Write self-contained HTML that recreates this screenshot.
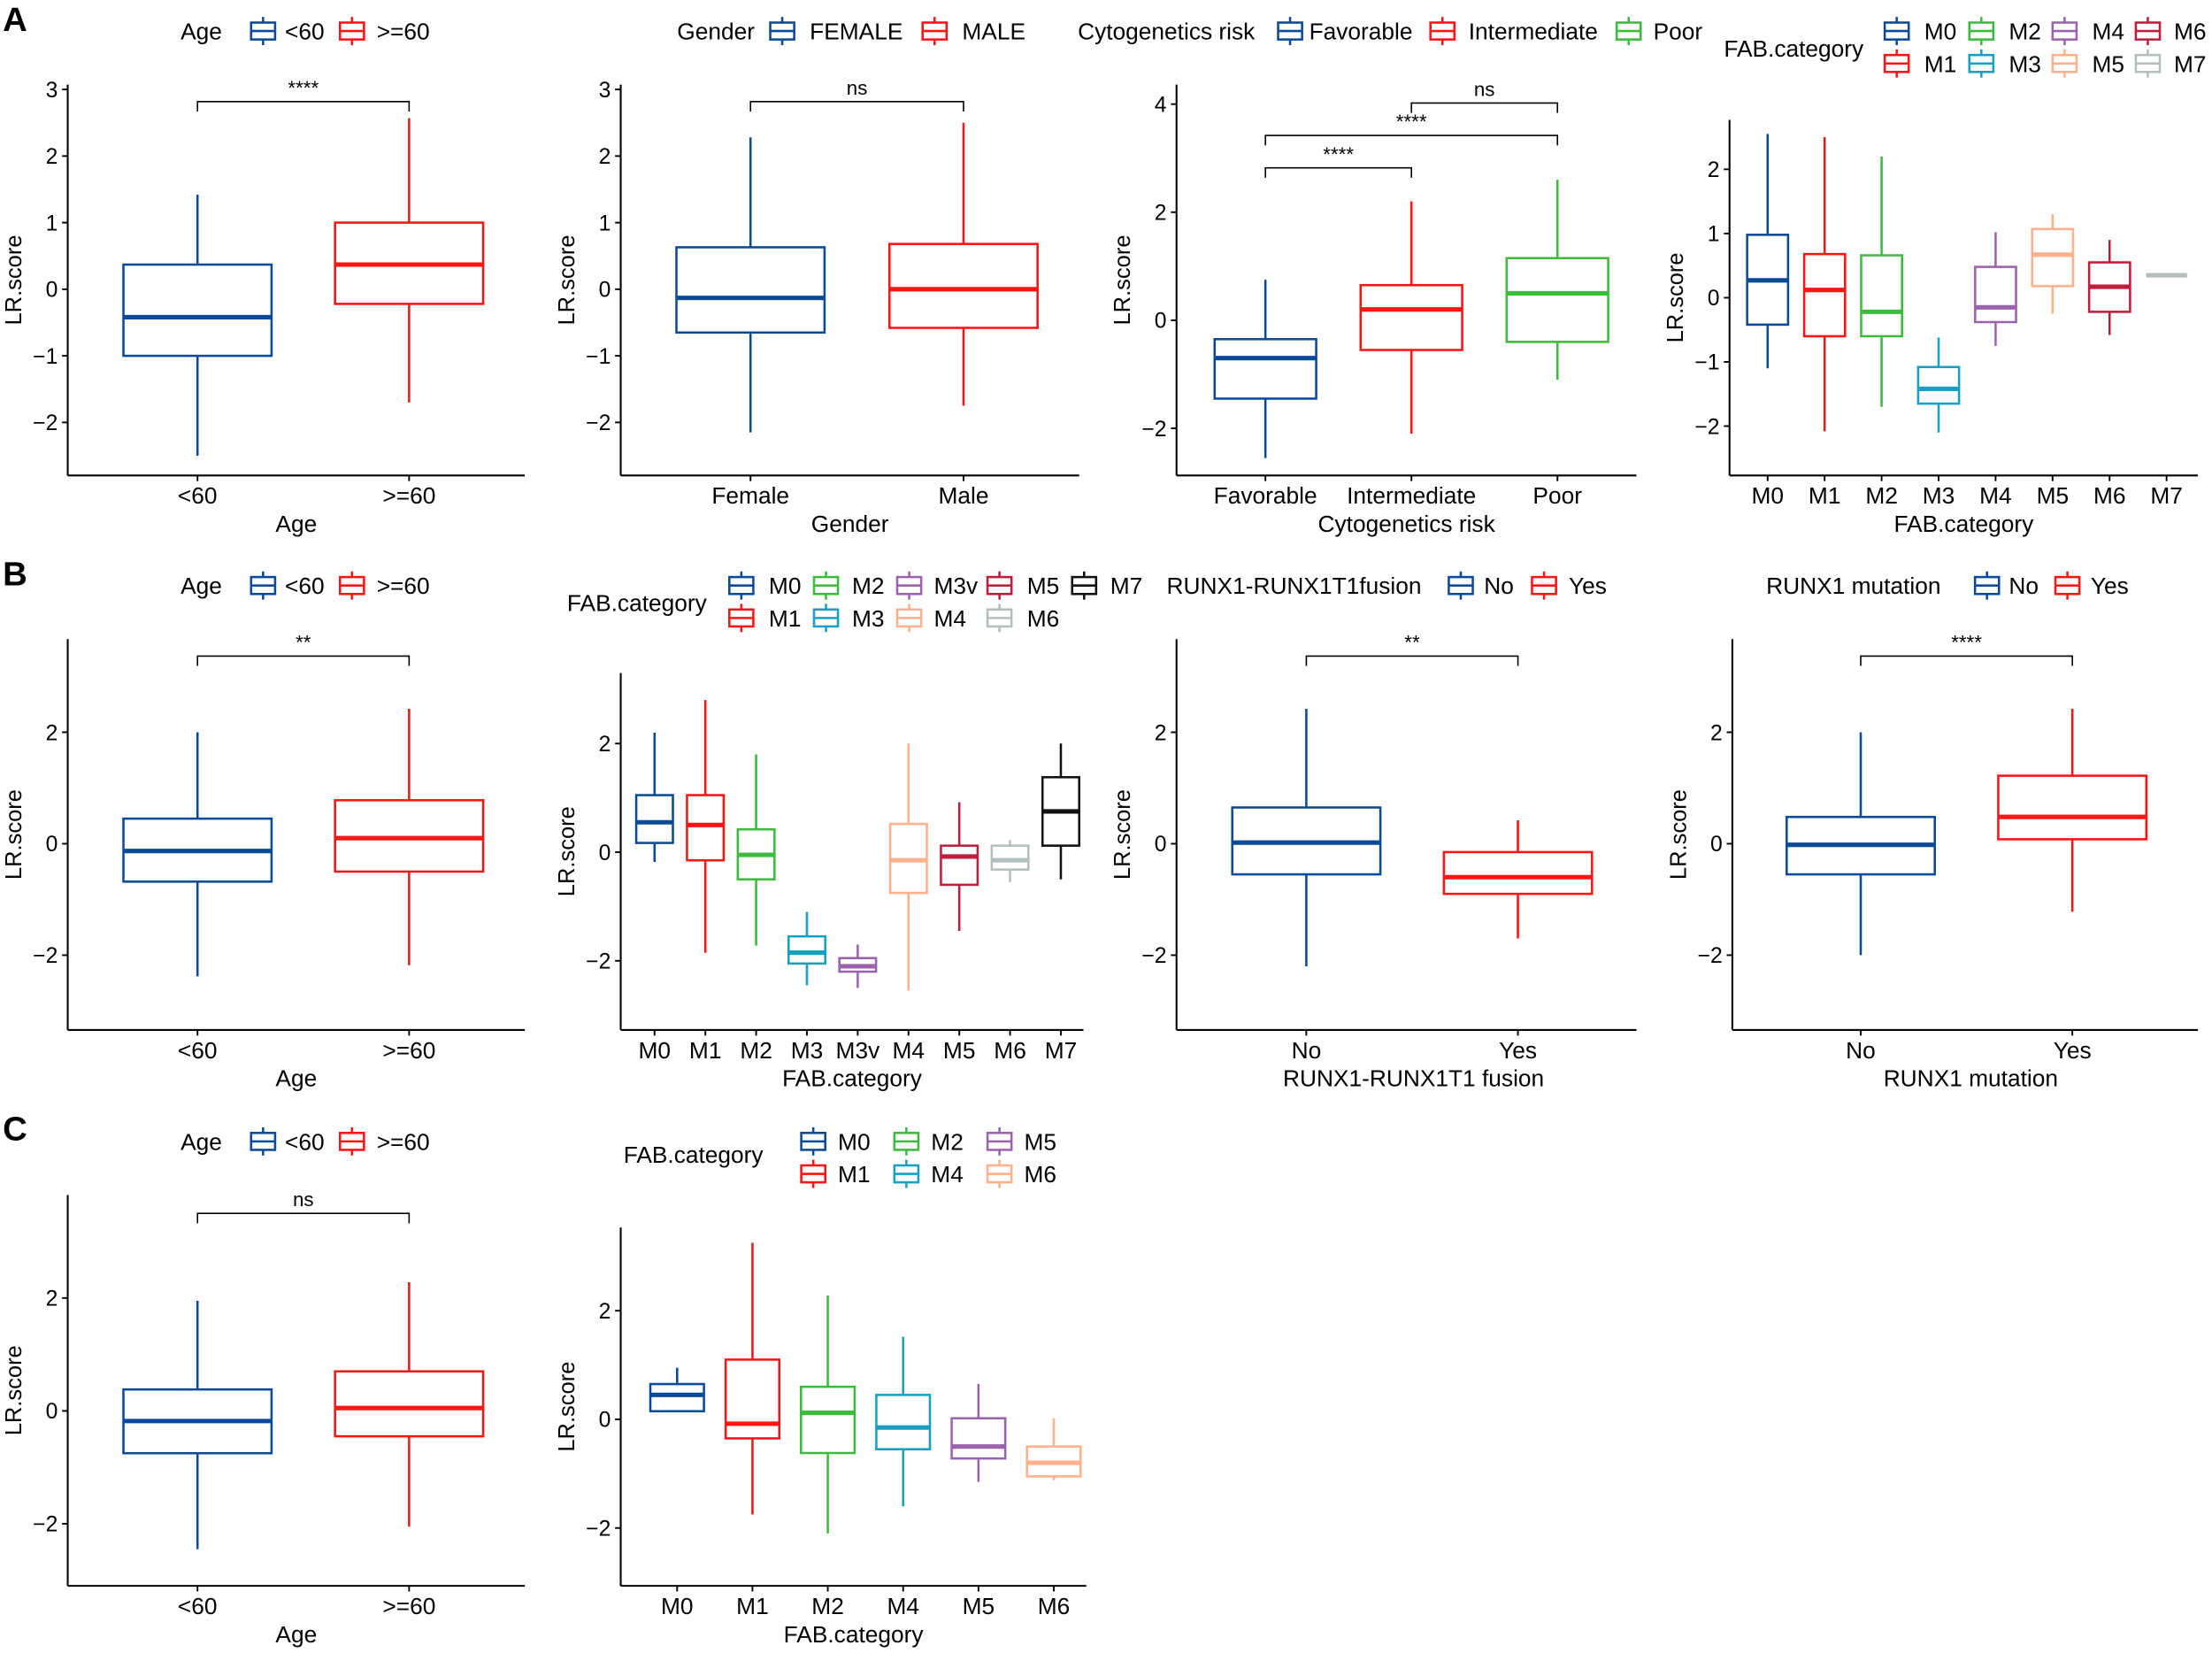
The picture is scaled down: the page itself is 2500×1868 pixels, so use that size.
<!DOCTYPE html>
<html><head><meta charset="utf-8">
<style>
html,body{margin:0;padding:0;background:#fff;}
svg{display:block;}
text{font-family:"Liberation Sans",Arial,sans-serif;fill:#000;}
</style></head>
<body>
<svg id="chart" xmlns="http://www.w3.org/2000/svg" width="2500" height="1868" viewBox="0 0 1568 1171.6" preserveAspectRatio="none">
<rect x="0" y="0" width="1568" height="1172" fill="#fff"/>
<text x="2" y="22" font-size="24" font-weight="bold">A</text>
<text x="2" y="415" font-size="24" font-weight="bold">B</text>
<text x="2" y="808" font-size="24" font-weight="bold">C</text>
</svg>
<script>
const C={M0:'#0B4A98',M1:'#FF1414',M2:'#3DBB3D',M3:'#17A0C4',M4:'#9B62AE',M5:'#FFB08C',M6:'#BE1E3C',M7:'#B4BEBE',blk:'#111'};
// data arrays: each box = [q1, median, q3, lower whisker, upper whisker]
const a1Cats=['<60','>=60'];
const a1Boxes=[[-1.0,-0.42,0.37,-2.5,1.42],[-0.22,0.37,1.0,-1.7,2.57]];
const a2Cats=['Female','Male'];
const a2Boxes=[[-0.65,-0.13,0.63,-2.15,2.28],[-0.58,0.0,0.68,-1.75,2.5]];
const a3Cats=['Favorable','Intermediate','Poor'];
const a3Boxes=[[-1.45,-0.7,-0.35,-2.55,0.75],[-0.55,0.2,0.65,-2.1,2.2],[-0.4,0.5,1.15,-1.1,2.6]];
const a4Cats=['M0','M1','M2','M3','M4','M5','M6','M7'];
const a4Boxes=[[-0.42,0.27,0.98,-1.1,2.55],[-0.6,0.12,0.68,-2.08,2.5],[-0.6,-0.22,0.66,-1.7,2.2],[-1.65,-1.42,-1.08,-2.1,-0.62],[-0.38,-0.15,0.48,-0.75,1.02],[0.18,0.67,1.07,-0.25,1.3],[-0.22,0.17,0.55,-0.58,0.9],[0.35,0.35,0.35,0.35,0.35]];
const b1Cats=['<60','>=60'];
const b1Boxes=[[-0.68,-0.13,0.45,-2.38,2.0],[-0.5,0.1,0.78,-2.18,2.42]];
const b2Cats=['M0','M1','M2','M3','M3v','M4','M5','M6','M7'];
const b2Boxes=[[0.17,0.55,1.05,-0.18,2.2],[-0.15,0.5,1.05,-1.85,2.8],[-0.5,-0.05,0.42,-1.72,1.8],[-2.05,-1.85,-1.55,-2.45,-1.1],[-2.2,-2.1,-1.95,-2.5,-1.7],[-0.75,-0.15,0.52,-2.55,2.0],[-0.6,-0.08,0.12,-1.45,0.92],[-0.32,-0.15,0.12,-0.55,0.22],[0.12,0.75,1.38,-0.5,2.0]];
const b3Cats=['No','Yes'];
const b3Boxes=[[-0.55,0.02,0.65,-2.2,2.42],[-0.9,-0.6,-0.15,-1.7,0.42]];
const b4Cats=['No','Yes'];
const b4Boxes=[[-0.55,-0.02,0.48,-2.0,2.0],[0.08,0.48,1.22,-1.22,2.42]];
const c1Cats=['<60','>=60'];
const c1Boxes=[[-0.75,-0.18,0.38,-2.45,1.95],[-0.45,0.05,0.7,-2.05,2.28]];
const c2Cats=['M0','M1','M2','M4','M5','M6'];
const c2Boxes=[[0.15,0.45,0.65,0.15,0.95],[-0.35,-0.08,1.1,-1.75,3.25],[-0.62,0.12,0.6,-2.1,2.28],[-0.55,-0.15,0.45,-1.6,1.52],[-0.72,-0.5,0.02,-1.15,0.65],[-1.05,-0.8,-0.5,-1.12,0.02]];
const ticks3=[-2,-1,0,1,2,3];
const ticks4=[-2,0,2,4];
const ticks2=[-2,-1,0,1,2];
const ticksB=[-2,0,2];

const svg=document.getElementById('chart');
const NS='http://www.w3.org/2000/svg';
function mk(tag,attrs,parent){const e=document.createElementNS(NS,tag);for(const k in attrs)e.setAttribute(k,attrs[k]);(parent||svg).appendChild(e);return e;}
function txt(x,y,s,size,anchor,parent,extra){const t=mk('text',Object.assign({x:x,y:y,'font-size':size,'text-anchor':anchor||'start'},extra||{}),parent);t.textContent=s;return t;}

function keyIcon(g,x,y,col){
  const k=mk('g',{},g);
  
  
  mk('rect',{x:x,y:y-6,width:17,height:12,fill:'none',stroke:col,'stroke-width':1.6},k);
  mk('line',{x1:x,x2:x+17,y1:y,y2:y,stroke:col,'stroke-width':1.6},k);
  mk('line',{x1:x+8.5,x2:x+8.5,y1:y-10,y2:y-6,stroke:col,'stroke-width':1.6},k);
  mk('line',{x1:x+8.5,x2:x+8.5,y1:y+6,y2:y+10,stroke:col,'stroke-width':1.6},k);
}

function panel(p){
  const g=mk('g',{});
  
  
  const [x0,x1]=[p.x0,p.x1];
  const yS=v=>p.yRef+(p.vRef-v)*p.ppu;
  const xS=i=>p.c0+i*p.step;
  const ax=mk('g',{},g);
  
  
  mk('line',{x1:x0,x2:x0,y1:p.yTop,y2:p.yBot,stroke:'#000','stroke-width':1.3},ax);
  p.ticks.forEach(t=>{
    const y=yS(t);
    mk('line',{x1:x0-4,x2:x0,y1:y,y2:y,stroke:'#000','stroke-width':1.2},ax);
    const lab=txt(x0-7,y+5.5,t<0?'\u2212'+Math.abs(t):String(t),15.5,'end',ax);
    
    
  });
  const yt=txt(0,0,'LR.score',16,'middle',ax,{transform:`translate(${x0-33},${(p.yTop+p.yBot)/2}) rotate(-90)`});
  
  
  const xa=mk('g',{},g);
  
  
  mk('line',{x1:x0,x2:x1,y1:p.yBot,y2:p.yBot,stroke:'#000','stroke-width':1.3},xa);
  p.cats.forEach((c,i)=>{
    const x=xS(i);
    mk('line',{x1:x,x2:x,y1:p.yBot,y2:p.yBot+4,stroke:'#000','stroke-width':1.2},xa);
    const l=txt(x,p.yBot+20,c,16.5,'middle',xa);
    
    
  });
  const xt=txt((x0+x1)/2+(p.titleDx||0),p.yBot+40,p.xTitle,16.5,'middle',xa);
  
  
  p.boxes.forEach((b,i)=>{
    const col=p.colors[i];const x=xS(i);const w=p.bw;
    const bg=mk('g',{},g);
    
    
    mk('line',{x1:x,x2:x,y1:yS(b[4]),y2:yS(b[2]),stroke:col,'stroke-width':1.6},bg);
    mk('line',{x1:x,x2:x,y1:yS(b[0]),y2:yS(b[3]),stroke:col,'stroke-width':1.6},bg);
    mk('rect',{x:x-w/2,y:yS(b[2]),width:w,height:Math.max(0,yS(b[0])-yS(b[2])),fill:'#fff',stroke:col,'stroke-width':1.6},bg);
    mk('line',{x1:x-w/2,x2:x+w/2,y1:yS(b[1]),y2:yS(b[1]),stroke:col,'stroke-width':3.2},bg);
  });
  (p.brackets||[]).forEach(br=>{
    const bg=mk('g',{},g);
    
    
    const xa_=xS(br.a),xb=xS(br.b),y=br.y;
    mk('path',{d:`M${xa_},${y+7}V${y}H${xb}V${y+7}`,fill:'none',stroke:'#000','stroke-width':1},bg);
    txt((xa_+xb)/2,y-5,br.label,14,'middle',bg);
  });
  const lg=mk('g',{},g);
  
  
  const L=p.legend;
  txt(L.tx,L.ty+6,L.title,16.5,'start',lg);
  L.items.forEach(it=>{
    const eg=mk('g',{},lg);
    
    
    keyIcon(eg,it[0],it[2],it[3]);
    txt(it[1],it[2]+6,it[4],16.5,'start',eg);
  });
}

const bw=C.M0,rd=C.M1,gn=C.M2;
panel({name:'panel-a-age',x0:48,x1:372,yTop:60,yBot:337,yRef:205,vRef:0,ppu:47.2,ticks:ticks3,cats:a1Cats,boxes:a1Boxes,colors:[bw,rd],c0:140,step:150,bw:105,xTitle:'Age',
 brackets:[{a:0,b:1,y:72,label:'****'}],
 legend:{title:'Age',tx:128,ty:22,items:[[178,202,22,bw,'<60'],[241,267,22,rd,'>=60']]}});
panel({name:'panel-a-gender',x0:440,x1:765,yTop:60,yBot:337,yRef:205,vRef:0,ppu:47.2,ticks:ticks3,cats:a2Cats,boxes:a2Boxes,colors:[bw,rd],c0:532,step:151,bw:105,xTitle:'Gender',
 brackets:[{a:0,b:1,y:72,label:'ns'}],
 legend:{title:'Gender',tx:480,ty:22,items:[[546,574,22,bw,'FEMALE'],[654,682,22,rd,'MALE']]}});
panel({name:'panel-a-cytogenetics',x0:834,x1:1160,yTop:60,yBot:337,yRef:227,vRef:0,ppu:38.3,ticks:ticks4,cats:a3Cats,boxes:a3Boxes,colors:[bw,rd,gn],c0:897,step:103.5,bw:72,xTitle:'Cytogenetics risk',
 brackets:[{a:0,b:1,y:119,label:'****'},{a:0,b:2,y:96,label:'****'},{a:1,b:2,y:73,label:'ns'}],
 legend:{title:'Cytogenetics risk',tx:764,ty:22,items:[[906,928,22,bw,'Favorable'],[1014,1041,22,rd,'Intermediate'],[1146,1172,22,gn,'Poor']]}});
panel({name:'panel-a-fab',x0:1226,x1:1558,yTop:85,yBot:337,yRef:211,vRef:0,ppu:45.5,ticks:ticks2,cats:a4Cats,boxes:a4Boxes,colors:[C.M0,C.M1,C.M2,C.M3,C.M4,C.M5,C.M6,C.M7],c0:1253,step:40.4,bw:29,xTitle:'FAB.category',
 legend:{title:'FAB.category',tx:1222,ty:34,items:[[1336,1364,22,C.M0,'M0'],[1396,1424,22,C.M2,'M2'],[1455,1483,22,C.M4,'M4'],[1514,1541,22,C.M6,'M6'],
  [1336,1364,45,C.M1,'M1'],[1396,1424,45,C.M3,'M3'],[1455,1483,45,C.M5,'M5'],[1514,1541,45,C.M7,'M7']]}});
panel({name:'panel-b-age',x0:48,x1:372,yTop:453,yBot:730,yRef:598,vRef:0,ppu:39.5,ticks:ticksB,cats:b1Cats,boxes:b1Boxes,colors:[bw,rd],c0:140,step:150,bw:105,xTitle:'Age',
 brackets:[{a:0,b:1,y:465,label:'**'}],
 legend:{title:'Age',tx:128,ty:415,items:[[178,202,415,bw,'<60'],[241,267,415,rd,'>=60']]}});
panel({name:'panel-b-fab',x0:440,x1:768,yTop:477,yBot:730,yRef:604,vRef:0,ppu:38.5,ticks:ticksB,cats:b2Cats,boxes:b2Boxes,colors:[C.M0,C.M1,C.M2,C.M3,C.M4,C.M5,C.M6,C.M7,C.blk],c0:464,step:36,bw:26,xTitle:'FAB.category',
 legend:{title:'FAB.category',tx:402,ty:427,items:[[517,545,415,C.M0,'M0'],[577,604,415,C.M2,'M2'],[636,662,415,C.M4,'M3v'],[700,728,415,C.M6,'M5'],[760,787,415,C.blk,'M7'],
  [517,545,438,C.M1,'M1'],[577,604,438,C.M3,'M3'],[636,662,438,C.M5,'M4'],[700,728,438,C.M7,'M6']]}});
panel({name:'panel-b-runx1-fusion',x0:834,x1:1160,yTop:453,yBot:730,yRef:598,vRef:0,ppu:39.5,ticks:ticksB,cats:b3Cats,boxes:b3Boxes,colors:[bw,rd],c0:926,step:150,bw:105,xTitle:'RUNX1-RUNX1T1 fusion',titleDx:5,
 brackets:[{a:0,b:1,y:465,label:'**'}],
 legend:{title:'RUNX1-RUNX1T1fusion',tx:827,ty:415,items:[[1027,1052,415,bw,'No'],[1086,1112,415,rd,'Yes']]}});
panel({name:'panel-b-runx1-mutation',x0:1228,x1:1558,yTop:453,yBot:730,yRef:598,vRef:0,ppu:39.5,ticks:ticksB,cats:b4Cats,boxes:b4Boxes,colors:[bw,rd],c0:1319,step:150,bw:105,xTitle:'RUNX1 mutation',titleDx:4,
 brackets:[{a:0,b:1,y:465,label:'****'}],
 legend:{title:'RUNX1 mutation',tx:1252,ty:415,items:[[1400,1424,415,bw,'No'],[1457,1482,415,rd,'Yes']]}});
panel({name:'panel-c-age',x0:48,x1:372,yTop:847,yBot:1124,yRef:1000,vRef:0,ppu:40,ticks:ticksB,cats:c1Cats,boxes:c1Boxes,colors:[bw,rd],c0:140,step:150,bw:105,xTitle:'Age',
 brackets:[{a:0,b:1,y:860,label:'ns'}],
 legend:{title:'Age',tx:128,ty:809,items:[[178,202,809,bw,'<60'],[241,267,809,rd,'>=60']]}});
panel({name:'panel-c-fab',x0:440,x1:770,yTop:870,yBot:1124,yRef:1006,vRef:0,ppu:38.5,ticks:ticksB,cats:c2Cats,boxes:c2Boxes,colors:[C.M0,C.M1,C.M2,C.M3,C.M4,C.M5],c0:480,step:53.4,bw:38,xTitle:'FAB.category',
 legend:{title:'FAB.category',tx:442,ty:818,items:[[568,594,809,C.M0,'M0'],[634,660,809,C.M2,'M2'],[700,726,809,C.M4,'M5'],
  [568,594,832,C.M1,'M1'],[634,660,832,C.M3,'M4'],[700,726,832,C.M5,'M6']]}});
</script>
</body></html>
